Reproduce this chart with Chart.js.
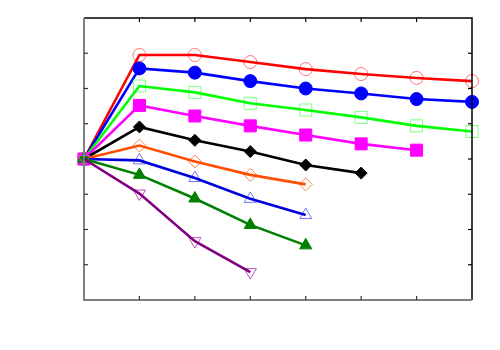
<!DOCTYPE html>
<html>
<head>
<meta charset="utf-8">
<script src="https://cdn.jsdelivr.net/npm/chart.js@4"></script>
<style>
  html, body { margin: 0; padding: 0; background: #fff; }
  #wrap { width: 500px; height: 350px; }
</style>
</head>
<body>
<div id="wrap"><canvas id="c" width="500" height="350"></canvas></div>
<script>
// x positions (steps) and tick values
const xSteps = [0, 1, 2, 3, 4, 5, 6, 7];
const xTicks = [1, 2, 3, 4, 5, 6];
const yTicks = [1, 2, 3, 4, 5, 6, 7];

// series values
const redCircles    = [4.0, 6.95, 6.95, 6.75, 6.55, 6.41, 6.30, 6.21];
const blueCircles   = [4.0, 6.57, 6.45, 6.21, 6.00, 5.86, 5.70, 5.62];
const greenSquares  = [4.0, 6.07, 5.89, 5.58, 5.39, 5.18, 4.94, 4.78];
const magentaSquares= [4.0, 5.52, 5.22, 4.94, 4.68, 4.43, 4.25];
const blackDiamonds = [4.0, 4.91, 4.53, 4.21, 3.83, 3.60];
const orangeDiamonds= [4.0, 4.38, 3.93, 3.55, 3.28];
const blueTriangles = [4.0, 3.96, 3.46, 2.87, 2.41];
const greenTriangles= [4.0, 3.55, 2.88, 2.13, 1.55];
const purpleTriangles=[4.0, 3.02, 1.67, 0.79];

const series = [
  { data: redCircles,     line: '#ff0000', mk: '#ff7070', fill: false, style: 'circle',   r: 6.5, rot: 0 },
  { data: blueCircles,    line: '#0000ff', mk: '#0000ff', fill: true,  style: 'circle',   r: 6.5, rot: 0 },
  { data: greenSquares,   line: '#00ff00', mk: '#80ff80', fill: false, style: 'rect',     r: 8.5, rot: 0 },
  { data: magentaSquares, line: '#ff00ff', mk: '#ff00ff', fill: true,  style: 'rect',     r: 8.5, rot: 0 },
  { data: blackDiamonds,  line: '#000000', mk: '#000000', fill: true,  style: 'rectRot',  r: 6,   rot: 0 },
  { data: orangeDiamonds, line: '#ff4d00', mk: '#ff8050', fill: false, style: 'rectRot',  r: 6.5, rot: 0 },
  { data: blueTriangles,  line: '#0000dd', mk: '#7070ff', fill: false, style: 'triangle', r: 7,   rot: 0 },
  { data: greenTriangles, line: '#008000', mk: '#008000', fill: true,  style: 'triangle', r: 7,   rot: 0 },
  { data: purpleTriangles,line: '#800080', mk: '#c050c0', fill: false, style: 'triangle', r: 7,   rot: 180 }
];

// later series drawn on top; within a series the line sits over its markers
const datasets = [];
series.slice().reverse().forEach(s => {
  const pts = s.data.map((v, i) => ({ x: xSteps[i], y: v }));
  datasets.push({
    data: pts, showLine: true, borderColor: s.line, borderWidth: 2.6,
    pointRadius: 0, fill: false, tension: 0, clip: false
  });
  datasets.push({
    data: pts, showLine: false, pointStyle: s.style, pointRadius: s.r,
    pointRotation: s.rot, pointBorderColor: s.mk, pointBorderWidth: 1,
    pointBackgroundColor: s.fill ? s.mk : 'rgba(0,0,0,0)', clip: false
  });
});

const frame = {
  id: 'frame',
  afterDraw(chart) {
    const ctx = chart.ctx, a = chart.chartArea;
    const xs = chart.scales.x, ys = chart.scales.y;
    ctx.save();
    ctx.lineCap = 'butt';
    ctx.strokeStyle = '#000'; ctx.lineWidth = 1.5;
    ctx.beginPath();
    ctx.moveTo(a.left, a.top); ctx.lineTo(a.right, a.top); ctx.lineTo(a.right, a.bottom);
    ctx.stroke();
    ctx.strokeStyle = '#808080'; ctx.lineWidth = 2;
    ctx.beginPath();
    ctx.moveTo(a.left, a.top); ctx.lineTo(a.left, a.bottom); ctx.lineTo(a.right, a.bottom);
    ctx.stroke();
    ctx.lineWidth = 1.2;
    const L = 4;
    xTicks.forEach(v => {
      const px = xs.getPixelForValue(v);
      ctx.strokeStyle = '#000';
      ctx.beginPath(); ctx.moveTo(px, a.top); ctx.lineTo(px, a.top + L); ctx.stroke();
      ctx.strokeStyle = '#333';
      ctx.beginPath(); ctx.moveTo(px, a.bottom); ctx.lineTo(px, a.bottom - L); ctx.stroke();
    });
    yTicks.forEach(v => {
      const py = ys.getPixelForValue(v);
      ctx.strokeStyle = '#333';
      ctx.beginPath(); ctx.moveTo(a.left, py); ctx.lineTo(a.left + L, py); ctx.stroke();
      ctx.strokeStyle = '#000';
      ctx.beginPath(); ctx.moveTo(a.right, py); ctx.lineTo(a.right - L, py); ctx.stroke();
    });
    ctx.restore();
  }
};

new Chart(document.getElementById('c'), {
  type: 'scatter',
  data: { datasets },
  options: {
    responsive: false,
    animation: false,
    events: [],
    layout: { padding: { left: 84, right: 28, top: 18, bottom: 50 } },
    plugins: { legend: { display: false }, tooltip: { enabled: false } },
    scales: {
      x: { type: 'linear', min: 0, max: 7, display: false },
      y: { type: 'linear', min: 0, max: 8, display: false }
    }
  },
  plugins: [frame]
});
</script>
</body>
</html>
